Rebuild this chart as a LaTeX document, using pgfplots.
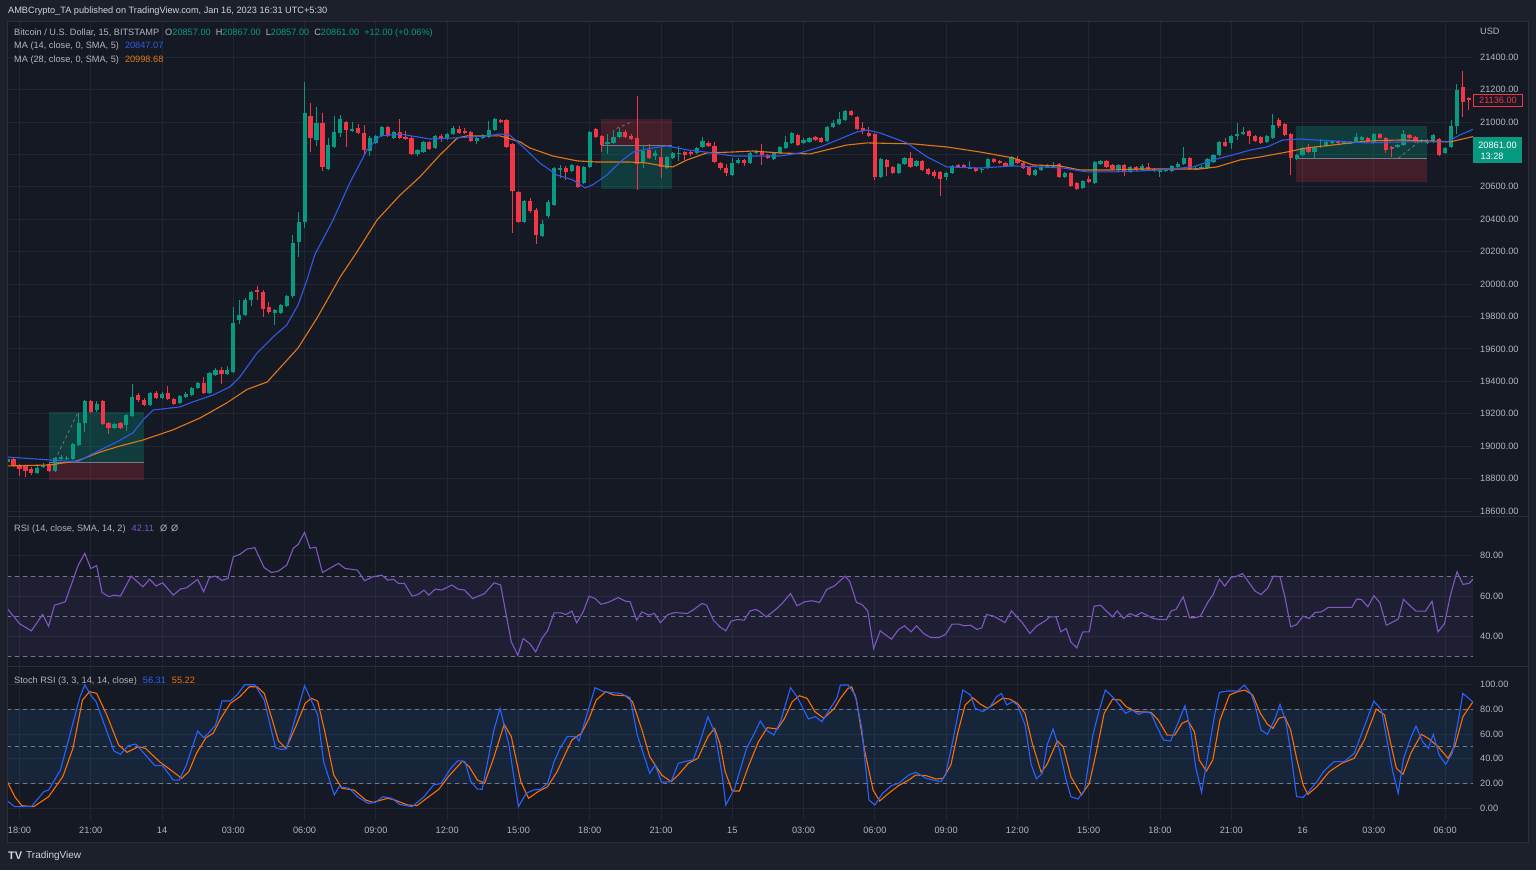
\documentclass[border=0pt]{standalone}
\usepackage{pgfplots}
\pgfplotsset{compat=1.18}
\usepackage{pgfplotstable}
\usepackage{fontspec}
\setmainfont{Liberation Sans}
\definecolor{bgouter}{HTML}{1C202B}
\definecolor{bgpanel}{HTML}{151924}
\definecolor{gridc}{HTML}{222633}
\definecolor{txt}{HTML}{B2B5BE}
\definecolor{txtl}{HTML}{D1D4DC}
\definecolor{upc}{HTML}{089981}
\definecolor{dnc}{HTML}{F23645}
\definecolor{mablue}{HTML}{2F5BE8}
\definecolor{maorange}{HTML}{E07818}
\definecolor{rsic}{HTML}{7E57C2}
\definecolor{stk}{HTML}{2962FF}
\definecolor{std}{HTML}{FF6D00}
\definecolor{stband}{HTML}{2196F3}
\definecolor{dashc}{HTML}{787B86}
\definecolor{sepc}{HTML}{2A2E39}
\newcommand\fsz{\fontsize{9.2}{11}\selectfont}

\pgfplotstableread{
i o h l c
-2 18902 18927 18896 18921
-1 18921 18927 18871 18878
0 18884 18890 18816 18859
1 18878 18884 18810 18847
2 18859 18871 18822 18834
3 18834 18878 18828 18865
4 18871 18896 18865 18884
5 18890 18896 18841 18847
6 18847 18933 18841 18927
7 18921 18945 18915 18933
8 18921 18939 18915 18927
9 18921 19019 18915 19013
10 19007 19205 19001 19143
11 19143 19285 19087 19279
12 19279 19285 19205 19211
13 19223 19279 19211 19260
14 19279 19285 19131 19137
15 19143 19149 19075 19112
16 19112 19143 19106 19137
17 19143 19149 19106 19112
18 19131 19198 19094 19192
19 19186 19384 19180 19303
20 19316 19328 19273 19285
21 19285 19297 19248 19254
22 19254 19334 19248 19328
23 19328 19340 19291 19297
24 19297 19334 19291 19322
25 19328 19371 19285 19291
26 19291 19297 19254 19260
27 19266 19316 19260 19309
28 19303 19334 19297 19322
29 19316 19365 19309 19359
30 19359 19396 19353 19390
31 19390 19427 19322 19328
32 19328 19458 19322 19451
33 19439 19482 19433 19470
34 19470 19488 19384 19445
35 19445 19495 19439 19470
36 19458 19859 19451 19760
37 19778 19902 19754 19809
38 19809 19914 19803 19902
39 19902 19957 19865 19951
40 19964 19988 19902 19951
41 19951 19964 19797 19846
42 19859 19889 19815 19828
43 19822 19846 19748 19840
44 19822 19877 19815 19871
45 19865 19933 19859 19926
46 19926 20303 19914 20254
47 20260 20445 20167 20383
48 20383 21247 20346 21056
49 21037 21117 20815 20901
50 20889 21093 20852 20994
51 20994 21056 20698 20722
52 20710 20901 20704 20858
53 20846 21037 20840 20938
54 20932 21043 20907 21019
55 21000 21006 20846 20951
56 20944 21000 20938 20957
57 20963 20988 20926 20932
58 20932 20981 20796 20827
59 20821 20914 20790 20901
60 20870 20920 20864 20914
61 20914 20975 20907 20969
62 20969 20975 20907 20914
63 20901 20944 20895 20938
64 20938 21019 20895 20901
65 20907 20944 20889 20895
66 20901 20914 20796 20803
67 20803 20833 20790 20827
68 20815 20883 20809 20877
69 20877 20883 20827 20833
70 20840 20920 20833 20914
71 20914 20926 20877 20901
72 20895 20932 20889 20926
73 20926 20975 20920 20963
74 20957 20975 20926 20932
75 20944 20963 20926 20932
76 20938 20944 20877 20883
77 20883 20907 20864 20901
78 20901 20926 20895 20920
79 20907 21006 20901 20951
80 20951 21025 20944 21019
81 21012 21019 20994 21000
82 21012 21019 20840 20846
83 20864 20870 20315 20574
84 20568 20574 20377 20383
85 20383 20519 20377 20513
86 20513 20531 20439 20451
87 20457 20469 20247 20303
88 20297 20395 20291 20371
89 20420 20519 20408 20506
90 20488 20722 20482 20716
91 20704 20735 20654 20716
92 20716 20729 20642 20692
93 20698 20741 20692 20735
94 20729 20735 20593 20599
95 20624 20729 20617 20722
96 20722 20944 20716 20938
97 20957 20963 20901 20907
98 20914 20920 20815 20858
99 20870 20926 20803 20877
100 20870 20951 20864 20907
101 20907 20963 20901 20938
102 20938 20951 20901 20907
103 20914 20926 20889 20895
104 20901 21160 20580 20741
105 20747 20858 20716 20821
106 20827 20864 20772 20778
107 20790 20827 20766 20809
108 20784 20852 20654 20722
109 20716 20790 20710 20784
110 20778 20815 20772 20809
111 20803 20852 20759 20809
112 20815 20821 20766 20796
113 20815 20827 20790 20803
114 20809 20846 20803 20840
115 20846 20907 20840 20883
116 20870 20883 20846 20852
117 20852 20877 20747 20753
118 20747 20753 20704 20716
119 20716 20741 20667 20685
120 20673 20778 20667 20747
121 20747 20778 20741 20766
122 20766 20772 20729 20747
123 20747 20815 20741 20809
124 20815 20827 20803 20821
125 20821 20864 20735 20796
126 20796 20803 20772 20778
127 20772 20815 20766 20809
128 20809 20852 20803 20846
129 20840 20914 20833 20877
130 20870 20938 20864 20932
131 20920 20926 20852 20858
132 20870 20901 20864 20889
133 20877 20907 20870 20901
134 20907 20914 20883 20889
135 20901 20907 20870 20877
136 20883 20975 20877 20969
137 20969 21012 20963 20994
138 20988 21062 20981 21019
139 21012 21074 21006 21068
140 21068 21074 21037 21043
141 21031 21037 20951 20957
142 20963 21000 20926 20944
143 20932 20969 20907 20914
144 20926 20932 20642 20661
145 20661 20778 20654 20772
146 20766 20772 20667 20722
147 20722 20729 20679 20685
148 20685 20747 20679 20741
149 20741 20784 20735 20778
150 20778 20815 20716 20722
151 20729 20766 20722 20759
152 20759 20766 20698 20704
153 20710 20716 20673 20679
154 20692 20704 20654 20667
155 20692 20698 20543 20648
156 20661 20692 20642 20685
157 20685 20735 20679 20729
158 20735 20741 20716 20722
159 20735 20741 20716 20722
160 20716 20759 20710 20722
161 20716 20722 20692 20698
162 20704 20716 20685 20710
163 20716 20778 20710 20772
164 20772 20778 20747 20753
165 20759 20766 20741 20747
166 20747 20753 20722 20729
167 20729 20790 20722 20784
168 20772 20790 20741 20747
169 20747 20753 20710 20716
170 20722 20729 20667 20673
171 20673 20710 20667 20704
172 20704 20729 20698 20722
173 20722 20741 20716 20735
174 20722 20753 20716 20735
175 20741 20747 20654 20661
176 20661 20692 20654 20685
177 20685 20692 20599 20605
178 20624 20630 20580 20587
179 20593 20642 20587 20636
180 20648 20667 20624 20630
181 20624 20759 20617 20753
182 20741 20766 20735 20759
183 20759 20766 20716 20722
184 20735 20741 20704 20710
185 20704 20741 20698 20735
186 20735 20741 20667 20698
187 20692 20729 20685 20722
188 20722 20729 20698 20704
189 20704 20741 20698 20729
190 20722 20747 20704 20710
191 20710 20716 20692 20698
192 20692 20710 20661 20704
193 20698 20710 20692 20704
194 20698 20735 20692 20729
195 20722 20753 20716 20741
196 20741 20846 20735 20778
197 20778 20784 20704 20710
198 20710 20729 20704 20716
199 20716 20735 20710 20722
200 20716 20778 20710 20772
201 20753 20803 20747 20796
202 20796 20883 20790 20877
203 20877 20901 20846 20852
204 20870 20920 20833 20914
205 20914 20994 20889 20926
206 20926 20969 20920 20938
207 20944 20951 20864 20914
208 20914 20920 20877 20883
209 20907 20914 20864 20870
210 20877 20920 20870 20914
211 20901 21049 20895 20981
212 21012 21025 20963 20975
213 20988 20994 20914 20920
214 20926 20932 20673 20778
215 20772 20803 20766 20796
216 20796 20846 20790 20840
217 20840 20864 20809 20815
218 20815 20852 20778 20846
219 20846 20895 20840 20852
220 20852 20883 20846 20877
221 20870 20889 20864 20883
222 20883 20889 20864 20870
223 20870 20883 20864 20877
224 20870 20883 20864 20877
225 20877 20932 20870 20907
226 20889 20914 20883 20907
227 20901 20907 20870 20877
228 20870 20932 20864 20926
229 20926 20932 20895 20901
230 20901 20907 20809 20827
231 20846 20852 20784 20833
232 20846 20864 20840 20858
233 20858 20951 20852 20926
234 20920 20926 20895 20901
235 20907 20914 20870 20877
236 20877 20895 20870 20889
237 20870 20895 20864 20883
238 20877 20926 20870 20920
239 20895 20901 20790 20796
240 20809 20846 20803 20840
241 20846 21012 20840 20975
242 20975 21234 20926 21197
243 21216 21315 21031 21123
244 21148 21154 21074 21136
}\candles

\pgfplotsset{
  tvaxis/.style={
    scale only axis, width=1466pt, xmin=-2.1, xmax=244.7,
    anchor=south west, clip=true, scaled ticks=false,
    axis line style={draw=none}, major tick length=0pt,
    xtick={0,12,...,240},
    grid=major, major grid style={draw=gridc, line width=0.9pt},
    ticklabel style={font=\fsz, text=txt},
    yticklabel pos=right,
    yticklabel style={anchor=west, inner sep=0pt, xshift=7pt},
  },
  nox/.style={xticklabels={}},
  wick/.style={only marks, mark=*, mark size=0.01pt, mark options={draw opacity=0, fill opacity=0},
    restrict y to domain=10000:30000,
    error bars/.cd, y dir=both, y explicit, error mark=none,
    error bar style={line width=1pt, draw=#1, draw opacity=1}},
  body/.style={only marks, mark=*, mark size=0.01pt, mark options={draw opacity=0, fill opacity=0},
    restrict y to domain=10000:30000,
    error bars/.cd, y dir=both, y explicit, error mark=none,
    error bar style={line width=4.2pt, draw=#1, draw opacity=1}},
}

\begin{document}
\begin{tikzpicture}
\useasboundingbox (0,0) rectangle (1536pt,870pt);
\fill[bgouter] (0,0) rectangle (1536pt,870pt);
\fill[bgpanel] (7pt,28pt) rectangle (1528pt,848pt);

% ---------------- price panel ----------------
\begin{axis}[tvaxis, nox, at={(7pt,353pt)}, height=495pt,
  ymin=18563, ymax=21617,
  ytick={18600,18800,19000,19200,19400,19600,19800,20000,20200,20400,20600,20800,21000,21200,21400},
  yticklabels={18600.00,18800.00,19000.00,19200.00,19400.00,19600.00,19800.00,20000.00,20200.00,20400.00,20600.00,{},21000.00,21200.00,21400.00},
]
% position boxes
\fill[upc, fill opacity=0.28] (axis cs:5,18902) rectangle (axis cs:21,19211);
\fill[dnc, fill opacity=0.2] (axis cs:5,18791) rectangle (axis cs:21,18902);
\draw[dashc, line width=0.8pt] (axis cs:5,18902) -- (axis cs:21,18902);
\fill[dnc, fill opacity=0.2] (axis cs:97.9,20858) rectangle (axis cs:109.8,21019);
\fill[upc, fill opacity=0.28] (axis cs:97.9,20587) rectangle (axis cs:109.8,20858);
\draw[dashc, line width=0.8pt] (axis cs:97.9,20858) -- (axis cs:109.8,20858);
\fill[upc, fill opacity=0.28] (axis cs:214.9,20773) rectangle (axis cs:236.9,20975);
\fill[dnc, fill opacity=0.2] (axis cs:214.9,20630) rectangle (axis cs:236.9,20773);
\draw[dashc, line width=0.8pt] (axis cs:214.9,20773) -- (axis cs:236.9,20773);
\draw[dashc, dashed, line width=0.7pt] (axis cs:6,18915) -- (axis cs:9.8,19205);
\draw[dashc, dashed, line width=0.7pt] (axis cs:232.1,20776) -- (axis cs:236,20889);
\draw[dashc, dashed, line width=0.7pt] (axis cs:100.5,20960) -- (axis cs:103,21000);

% wicks
\addplot[wick=upc] table[x=i, y expr={\thisrow{c}<\thisrow{o} ? 0 : (\thisrow{h}+\thisrow{l})/2}, y error expr={(\thisrow{h}-\thisrow{l})/2}] {\candles};
\addplot[wick=dnc] table[x=i, y expr={\thisrow{c}<\thisrow{o} ? (\thisrow{h}+\thisrow{l})/2 : 0}, y error expr={(\thisrow{h}-\thisrow{l})/2}] {\candles};
% bodies
\addplot[body=upc] table[x=i, y expr={\thisrow{c}<\thisrow{o} ? 0 : (\thisrow{o}+\thisrow{c})/2}, y error expr={max(abs(\thisrow{c}-\thisrow{o})/2,3)}] {\candles};
\addplot[body=dnc] table[x=i, y expr={\thisrow{c}<\thisrow{o} ? (\thisrow{o}+\thisrow{c})/2 : 0}, y error expr={max(abs(\thisrow{c}-\thisrow{o})/2,3)}] {\candles};

% MA 28
\addplot[maorange, line width=1.1pt] coordinates {
(-2.1,18878) (5.1,18884) (9.7,18909) (13.6,18964) (16.9,19001) (20.8,19038) (25.8,19100) (30.4,19174) (34.9,19267) (38.3,19350) (41.7,19396) (46.9,19606) (50.1,19791) (54.0,20044) (56.8,20198) (60.2,20396) (64.1,20550) (67.4,20661) (70.8,20797) (73.7,20901) (75.3,20914) (80.9,20914) (84.3,20877) (85.9,20840) (89.8,20790) (93.9,20760) (97.2,20753) (102.8,20753) (105.6,20747) (108.3,20729) (110.0,20723) (112.4,20766) (115.7,20809) (120.1,20815) (123.5,20821) (128.0,20809) (133.1,20803) (139.3,20858) (142.7,20871) (150.4,20865) (156.1,20846) (161.7,20815) (167.3,20778) (170.6,20735) (175.2,20729) (178.5,20704) (184.1,20704) (188.6,20710) (198.7,20710) (201.6,20723) (205.5,20766) (208.8,20784) (213.4,20815) (216.7,20840) (221.1,20858) (226.9,20883) (232.4,20889) (237.9,20883) (240.8,20877) (244.7,20910)
};
% MA 14
\addplot[mablue, line width=1.1pt] coordinates {
(-2.1,18933) (5.1,18915) (9.7,18903) (13.6,18977) (16.4,19026) (19.1,19082) (20.8,19162) (22.5,19223) (27.0,19242) (29.2,19273) (32.6,19316) (35.4,19365) (37.1,19427) (40.0,19575) (42.7,19674) (45.0,19748) (46.9,19871) (48.4,20025) (49.7,20180) (52.8,20396) (55.6,20624) (58.5,20827) (60.7,20914) (64.1,20926) (69.1,20895) (73.0,20901) (78.7,20914) (80.9,20926) (82.5,20920) (84.8,20846) (87.6,20747) (90.5,20673) (93.2,20642) (95.2,20593) (96.5,20612) (98.9,20673) (101.1,20753) (103.3,20815) (106.6,20840) (109.0,20852) (112.4,20828) (116.7,20809) (120.1,20790) (124.7,20790) (128.0,20790) (131.4,20809) (134.8,20846) (138.1,20895) (141.0,20939) (142.7,20951) (144.9,20932) (149.4,20871) (152.8,20784) (156.1,20723) (161.7,20716) (167.3,20729) (171.8,20723) (175.7,20716) (179.7,20692) (184.1,20692) (188.6,20698) (192.0,20704) (197.6,20723) (200.9,20766) (204.3,20797) (207.2,20827) (210.0,20846) (212.7,20889) (215.6,20895) (221.1,20883) (226.9,20871) (232.4,20877) (240.3,20877) (242.5,20920) (244.7,20955)
};
\end{axis}

% ---------------- RSI panel ----------------
\begin{axis}[tvaxis, nox, at={(7pt,203pt)}, height=150pt,
  ymin=24.9, ymax=99.2,
  ytick={40,60,80}, yticklabels={40.00,60.00,80.00},
  extra y ticks={30,50,70}, extra y tick labels={},
  extra y tick style={grid=major, major grid style={draw=dashc, line width=0.8pt, dash pattern=on 4pt off 4pt}},
]
\fill[rsic, fill opacity=0.1] (axis cs:-2.1,30) rectangle (axis cs:244.7,70);
\addplot[rsic, line width=1.1pt] coordinates {
(-2.1,54) (0,46.4) (2,42.8) (3.9,50.9) (4.9,45.1) (5.9,55.5) (7.7,57.2) (9.9,75.4) (11,81.2) (12,73.7) (13,75.1) (13.9,61.8) (15.1,59.7) (15.9,60.5) (17,60.0) (18.8,69.9) (20.8,64.6) (21.9,68.4) (23,65.0) (24.1,66.6) (25.9,60.5) (27.1,63.5) (28.1,64.1) (30,68.3) (31,62.2) (32,69.3) (33,69.9) (34.1,67.8) (35.1,68.8) (36,79.5) (37.1,80.7) (38.3,83.3) (39.6,84.0) (41.2,74.1) (42.4,71.7) (43.6,72.4) (45,75.4) (46.1,83.7) (46.9,85.6) (48,91.6) (48.9,83.7) (49.9,84.2) (51,71.7) (52.2,73.7) (53.7,76.2) (54.8,73.7) (56.9,72.9) (58.1,67.6) (59.5,69.6) (61,70.4) (62,67.9) (63,68.3) (63.8,66.3) (64.8,66.3) (66.1,60.0) (67.1,60.8) (68.1,63.0) (68.9,60.5) (70,63.5) (71.1,63.0) (72.8,65.5) (73.8,63.5) (74.9,63.0) (76.3,58.8) (78.3,61.3) (79.9,66.6) (81,65.5) (82.8,37.3) (83.9,30.7) (84.8,39.0) (85.9,36.5) (86.9,32.4) (88,39.3) (88.9,42.8) (90,51.7) (91.2,51.7) (92,50.9) (93,52.6) (93.8,46.8) (94.9,52.2) (95.9,60.0) (96.9,58.8) (97.9,56.0) (99.1,56.9) (100.8,59.3) (102,57.5) (102.8,57.2) (103.9,48.1) (104.8,52.2) (105.9,50.6) (106.9,51.4) (107.9,46.9) (109.2,50.9) (110.3,51.9) (112.4,51.4) (113.4,53.1) (114.9,56.4) (115.7,55.5) (116.8,48.1) (117.9,44.8) (118.9,42.8) (119.8,47.6) (120.8,48.4) (122,48.1) (123,52.7) (124,53.4) (124.7,52.2) (125.7,49.7) (127.2,53.1) (128.4,56.4) (129.8,61.3) (130.9,55.2) (132.2,57.2) (133.4,57.7) (134.7,56.9) (135.9,63.3) (137.2,65.1) (139,69.9) (139.8,67.1) (140.9,56.9) (141.8,55.9) (142.8,52.7) (143.8,34.0) (144.9,42.8) (146.8,38.7) (148,43.5) (149,45.3) (150.1,42.3) (151,45.3) (152.2,41.5) (153.4,39.5) (154.8,39.5) (155.9,41.0) (157,46.1) (158.2,46.1) (159,45.3) (160.1,45.6) (161.2,43.5) (162,44.3) (162.8,50.9) (164,50.1) (165.9,46.9) (167,52.7) (168,49.4) (168.8,46.9) (170.1,41.5) (171.2,45.1) (172.6,47.6) (173.4,49.7) (174.5,49.7) (175.3,42.3) (176.2,44.0) (177,37.3) (178,34.4) (179,42.3) (180.1,42.3) (180.9,55.0) (182,55.5) (183,52.6) (184,49.7) (184.8,52.7) (185.9,48.9) (186.9,51.4) (187.9,50.2) (188.9,51.9) (190,50.2) (190.9,48.9) (192,48.4) (193.1,48.4) (193.9,52.7) (194.7,53.4) (195.9,59.7) (197,49.3) (197.9,49.3) (198.8,50.1) (200.1,57.2) (200.9,60.5) (202,68.4) (202.9,65.0) (204,69.3) (205,69.9) (205.9,71.2) (207.2,65.8) (208,62.5) (209,60.8) (210.1,63.8) (211.1,69.9) (212.2,69.6) (213,60.0) (214,44.8) (215,45.9) (216.1,50.1) (217.1,48.9) (218.1,51.9) (219.2,52.2) (220.3,54.4) (224.3,54.4) (225.1,58.5) (225.9,58.4) (227,54.7) (228,60.2) (229,56.9) (230.1,45.6) (231,46.9) (232.1,48.6) (233,58.4) (234.1,55.2) (235.1,52.6) (236.7,52.6) (237.8,57.5) (238.8,42.3) (239.9,46.4) (240.9,60.5) (242,72.1) (243,65.8) (244,66.3) (244.7,68.4)
};
\end{axis}

% ---------------- Stoch RSI panel ----------------
\begin{axis}[tvaxis, at={(7pt,50pt)}, height=153pt,
  ymin=-9.7, ymax=114.4,
  ytick={0,20,40,60,80,100}, yticklabels={0.00,20.00,40.00,60.00,80.00,100.00},
  extra y ticks={20,50,80}, extra y tick labels={},
  extra y tick style={grid=major, major grid style={draw=dashc, line width=0.8pt, dash pattern=on 4pt off 4pt}},
  xticklabels={18:00,21:00,14,03:00,06:00,09:00,12:00,15:00,18:00,21:00,15,03:00,06:00,09:00,12:00,15:00,18:00,21:00,16,03:00,06:00},
  xticklabel style={anchor=center, yshift=-10pt},
]
\fill[stband, fill opacity=0.1] (axis cs:-2.1,20) rectangle (axis cs:244.7,80);
\addplot[std, line width=1.1pt] coordinates {
(-2.1,22) (-0.8,9.2) (0.4,1.9) (2.4,1.1) (4.9,9.2) (7.3,25.5) (9,48.4) (10.6,87.6) (11.8,94.4) (13,93.0) (14.7,75.5) (16.7,51.1) (18.1,45.2) (20,49.8) (21.2,48.4) (23.7,37.1) (25.7,30.0) (27.3,24.1) (28.5,29.5) (29.8,44.4) (31.4,57.1) (32.6,60.6) (33.9,72.8) (35.5,84.9) (37.1,90.3) (38.7,98.4) (40,98.4) (41.2,93.0) (42.4,74.1) (43.6,54.4) (44.9,48.4) (46.5,66.0) (48.1,84.9) (49.1,89.0) (50.2,86.8) (51.4,61.9) (52.9,26.8) (54.3,16.0) (56.3,14.6) (58.3,6.5) (59.5,4.6) (62,7.9) (63.2,6.5) (65.3,2.5) (66.9,1.9) (68.9,9.2) (70.6,15.2) (72.2,25.5) (74.6,38.2) (75.7,33.6) (77.1,22.7) (78.3,20.0) (79.8,40.3) (81.6,67.9) (82.8,57.9) (84.4,21.4) (85.7,7.9) (87.3,13.3) (88.9,17.3) (90.5,29.5) (91.8,43.0) (93,55.2) (94.6,60.6) (95.9,72.8) (97.1,87.6) (98.7,94.4) (100,91.7) (102,91.1) (103.2,86.3) (104.8,63.3) (106.1,41.7) (108.1,26.8) (109.7,21.4) (110.9,26.8) (112.6,36.3) (114.2,40.3) (115.9,57.9) (117,64.6) (117.9,52.5) (118.8,29.5) (120,13.8) (121.2,13.8) (122.8,34.9) (124.4,53.8) (125.9,65.2) (127.6,64.1) (128.8,72.8) (130.1,86.3) (131.3,91.1) (132.6,89.0) (133.9,78.2) (135.4,72.8) (137.2,80.9) (138.2,89.0) (139.5,97.1) (140.1,98.4) (140.9,87.6) (142.2,48.4) (143.7,14.6) (144.8,5.7) (146.3,11.9) (148,18.2) (149.7,22.7) (150.9,26.8) (152.6,26.3) (154.3,23.6) (155.5,24.1) (156.8,34.9) (158,61.9) (159.2,83.6) (160.5,89.5) (161.8,84.1) (163,80.9) (164.5,85.7) (165.5,89.0) (166.7,88.4) (168,84.9) (169.3,76.8) (170.5,52.5) (172,29.0) (173,35.5) (174.7,54.4) (175.7,49.8) (177,25.4) (178.8,10.6) (180.1,20.0) (181.3,45.7) (182.6,76.8) (184,88.2) (185.3,87.6) (186.3,82.2) (188,78.2) (190.5,77.6) (191.7,71.4) (193.2,59.2) (194.5,59.2) (195.7,68.7) (196.7,70.9) (197.8,61.9) (198.6,39.0) (199.8,30.0) (200.9,39.0) (202.1,71.4) (203.7,91.7) (205.1,94.4) (206.3,95.7) (207.6,91.7) (208.9,76.8) (210.1,67.9) (211,64.6) (212,72.8) (213,74.1) (214,63.3) (215,40.3) (216.1,18.7) (216.9,11.1) (218.4,17.3) (220.5,29.5) (222.6,36.3) (224.7,40.3) (226.4,55.2) (228.4,80.3) (229.8,75.5) (230.9,51.1) (231.8,32.2) (232.9,27.3) (234.3,45.2) (236,59.8) (237.2,56.5) (238.8,49.8) (240.5,40.3) (241.7,51.1) (243,74.1) (244.7,86.3)
};
\addplot[stk, line width=1.1pt] coordinates {
(-2.1,6) (-0.8,1.1) (2,1.1) (4.1,13.3) (4.9,14.6) (6.9,30.9) (10.2,90.3) (11,99.8) (12.2,90.3) (12.9,86.3) (13.9,72.8) (15.9,46.3) (17,43.6) (18.3,50.6) (19.6,51.9) (21.2,43.0) (22.8,34.4) (24.1,34.4) (25.9,22.7) (26.9,22.7) (28.1,34.9) (30,62.5) (31,57.1) (31.8,60.6) (33,67.3) (34.1,86.8) (35.5,86.8) (36.7,92.2) (37.9,100) (39.6,100) (41.2,87.6) (43.1,49.0) (44,47.6) (44.9,47.9) (46.1,67.3) (48,99.2) (49.1,87.6) (50.2,75.5) (51.2,37.6) (53,10.6) (53.8,17.3) (55.5,16.0) (56.9,9.2) (58.7,3.8) (59.9,4.6) (61.2,9.2) (62.7,7.9) (64,3.0) (66.1,1.1) (68.1,9.2) (69.7,18.7) (71,20.0) (72.6,32.2) (73.8,38.4) (75,37.6) (76,21.4) (77.1,15.4) (77.9,15.2) (79.8,61.9) (80.9,80.9) (82.4,51.1) (84,1.1) (85.3,11.9) (86.5,14.6) (87.7,15.2) (88.9,20.0) (90,37.6) (91,48.4) (92.2,57.9) (93.7,57.9) (94.2,54.4) (95.5,75.5) (96.9,97.6) (98.3,94.4) (99.7,93.6) (101.2,93.0) (102.8,89.5) (104,59.2) (106.1,28.2) (107,34.9) (108.1,20.9) (109.7,21.4) (110.9,36.3) (111.9,37.6) (113.4,39.0) (114.6,54.4) (115.9,74.1) (117.1,60.6) (118.3,26.8) (118.9,2.5) (120.4,16.0) (122.4,48.4) (124,63.3) (124.7,70.6) (125.7,63.3) (127,59.2) (128.2,71.4) (129.8,97.6) (130.9,90.3) (132.8,72.2) (134,74.1) (135.1,70.0) (136.3,79.5) (137.6,89.0) (138.2,99.8) (139.5,99.8) (140.7,91.7) (141.8,64.6) (143,6.5) (144,2.5) (145.3,11.9) (146.8,18.2) (148,20.0) (149.7,26.8) (150.9,29.0) (152.6,24.1) (153.8,22.7) (155.1,21.4) (155.9,26.8) (157.2,56.5) (158.8,95.7) (160.1,91.7) (160.9,80.9) (162.2,78.2) (163.4,82.2) (164.5,90.3) (165.3,93.0) (166.2,83.6) (167.2,86.3) (168,83.6) (169.3,67.3) (170.3,35.5) (171.2,23.6) (172.2,28.2) (173,51.1) (174,64.1) (175.1,47.1) (176.2,22.7) (177,9.2) (178.2,7.3) (179.3,14.6) (180.7,59.2) (181.7,78.2) (182.8,95.7) (184,90.3) (185.1,84.1) (186.2,76.8) (187.3,79.5) (188.4,76.0) (189.5,78.2) (190.5,76.8) (191.3,67.9) (192.6,55.2) (193.8,54.4) (195.1,70.0) (196.2,83.0) (197.2,61.9) (198,33.6) (199,12.7) (200.1,44.4) (201.2,75.5) (202,93.8) (203.4,94.9) (205.1,94.9) (206.2,99.8) (207.3,93.0) (208,83.6) (209,63.3) (210.1,59.8) (211.4,72.8) (212.2,84.1) (213.2,70.0) (214,45.7) (215,9.2) (216.1,8.7) (217.1,13.8) (218.4,21.4) (219.6,30.0) (221.3,37.6) (223,37.6) (224.7,44.4) (226.4,66.0) (228,86.8) (229.3,79.5) (230.5,47.1) (231.2,29.5) (232.1,11.9) (233,40.3) (234.3,57.9) (235.1,66.5) (236.2,53.8) (237.2,48.4) (238,59.8) (239,43.0) (240.1,35.5) (241.2,44.4) (242.2,70.6) (243,93.0) (244.7,86)
};
\end{axis}

% ---------------- frame, separators ----------------
\draw[sepc, line width=1pt] (7pt,353pt) -- (1528pt,353pt);
\draw[sepc, line width=1pt] (7pt,203pt) -- (1528pt,203pt);
\draw[sepc, line width=1pt] (7pt,28pt) rectangle (1528pt,848pt);

% ---------------- texts ----------------
\node[anchor=west, inner sep=0pt, text=txtl, font=\fsz] at (8pt,859pt) {AMBCrypto\_TA published on TradingView.com, Jan 16, 2023 16:31 UTC+5:30};
\node[anchor=west, inner sep=0pt, text=txt, font=\fsz] at (14pt,837pt) {Bitcoin / U.S. Dollar, 15, BITSTAMP\hspace{6pt}O\textcolor{upc}{20857.00}\hspace{5pt}H\textcolor{upc}{20867.00}\hspace{5pt}L\textcolor{upc}{20857.00}\hspace{5pt}C\textcolor{upc}{20861.00}\hspace{5pt}\textcolor{upc}{+12.00 (+0.06\%)}};
\node[anchor=west, inner sep=0pt, text=txt, font=\fsz] at (14pt,823.5pt) {MA (14, close, 0, SMA, 5)\hspace{6pt}\textcolor{mablue}{20847.07}};
\node[anchor=west, inner sep=0pt, text=txt, font=\fsz] at (14pt,810pt) {MA (28, close, 0, SMA, 5)\hspace{6pt}\textcolor{maorange}{20998.68}};
\node[anchor=west, inner sep=0pt, text=txt, font=\fsz] at (14pt,341pt) {RSI (14, close, SMA, 14, 2)\hspace{6pt}\textcolor{rsic}{42.11}\hspace{6pt}Ø\hspace{4pt}Ø};
\node[anchor=west, inner sep=0pt, text=txt, font=\fsz] at (14pt,189pt) {Stoch RSI (3, 3, 14, 14, close)\hspace{6pt}\textcolor{stk}{56.31}\hspace{6pt}\textcolor{std}{55.22}};
\node[anchor=west, inner sep=0pt, text=txt, font=\fsz] at (1480pt,839pt) {USD};

% price labels
\fill[bgpanel] (1473pt,764pt) rectangle (1523pt,776pt);
\draw[dnc, line width=0.8pt] (1473.5pt,764pt) rectangle (1522.5pt,776pt);
\node[anchor=center, inner sep=0pt, text=dnc, font=\fsz] at (1498pt,770pt) {21136.00};
\fill[upc] (1473pt,707pt) rectangle (1522pt,733pt);
\node[anchor=center, inner sep=0pt, text=white, font=\fsz] at (1497.5pt,725pt) {20861.00};
\node[anchor=center, inner sep=0pt, text=white, font=\fsz] at (1492pt,714pt) {13:28};

% logo
\node[anchor=west, inner sep=0pt, text=txtl, font=\fontsize{11}{12}\selectfont\bfseries] at (8pt,14pt) {TV};
\node[anchor=west, inner sep=0pt, text=txtl, font=\fontsize{10}{12}\selectfont] at (26pt,14pt) {TradingView};
\end{tikzpicture}
\end{document}
